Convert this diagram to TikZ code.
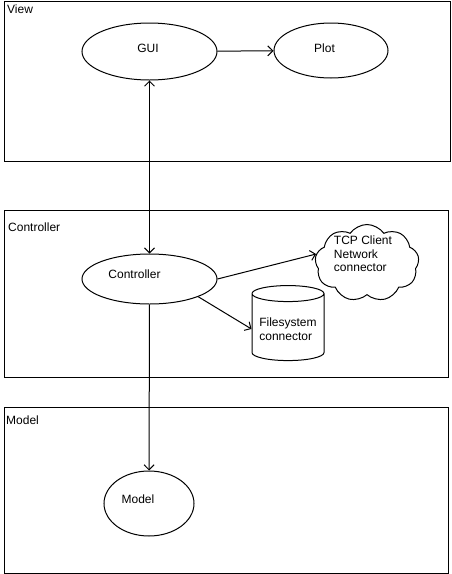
\documentclass[tikz,border=0pt]{standalone}
\usepackage{fontspec}
\setmainfont{Liberation Sans}
\usetikzlibrary{shapes.geometric,shapes.symbols,arrows.meta,positioning}

\begin{document}
\begin{tikzpicture}[x=1pt,y=-1pt,
  every node/.style={font=\fontsize{12}{13.5}\selectfont},
  layer/.style={draw,line width=1pt,anchor=north west,inner sep=0pt},
  tag/.style={anchor=west,inner sep=0pt},
  comp/.style={draw,ellipse,line width=1pt,inner sep=0pt},
  link/.style={line width=1pt},
  >={Straight Barb[length=5pt,width=10pt]}]
\useasboundingbox (0,0) rectangle (451,574);
% Layers
\node[layer,minimum width=446pt,minimum height=160pt] (view) at (4,1) {};
\node[layer,minimum width=444pt,minimum height=167pt] (control) at (4,210) {};
\node[layer,minimum width=444pt,minimum height=166pt] (model) at (4,407) {};
\node[tag] (viewtag) at (7,9) {View};
\node[tag] (controltag) at (8,227) {Controller};
\node[tag] (modeltag) at (6,420) {Model};
% View components
\node[comp,minimum width=135pt,minimum height=57pt,
  label={[xshift=-1.5pt,yshift=3.5pt]center:GUI}] (gui) at (149.5,51.5) {};
\node[comp,minimum width=114pt,minimum height=55pt,
  label={[xshift=-6.5pt,yshift=2.5pt]center:Plot}] (plot) at (331,50.5) {};
% Controller components
\node[comp,minimum width=135pt,minimum height=50pt,
  label={[xshift=-15pt,yshift=5pt]center:Controller}] (ctrl) at (149.5,279) {};
\node[cloud,draw,line width=1pt,cloud puffs=9,cloud puff arc=110,aspect=1.4,
  minimum width=104pt,minimum height=77pt,inner sep=0pt,
  label={[align=left,xshift=-4pt,yshift=9pt]center:TCP Client\\Network\\connector}] (tcp) at (367,263) {};
\node[cylinder,draw,line width=1pt,shape border rotate=90,aspect=0.25,
  minimum width=72pt,minimum height=75pt,align=left] (fsys) at (288,329) {Filesystem\\connector};
% Model components
\node[comp,minimum width=90pt,minimum height=65pt,
  label={[xshift=-11pt,yshift=4.5pt]center:Model}] (mdl) at (149,503.5) {};
% Connectors
\draw[link,->] (gui) -- (plot);
\draw[link,<->] (gui) -- (ctrl);
\draw[link,->] (ctrl.east) -- (tcp.170);
\draw[link,->] (ctrl.-20) -- (fsys.west);
\draw[link,->] (ctrl) -- (mdl);
\end{tikzpicture}
\end{document}
